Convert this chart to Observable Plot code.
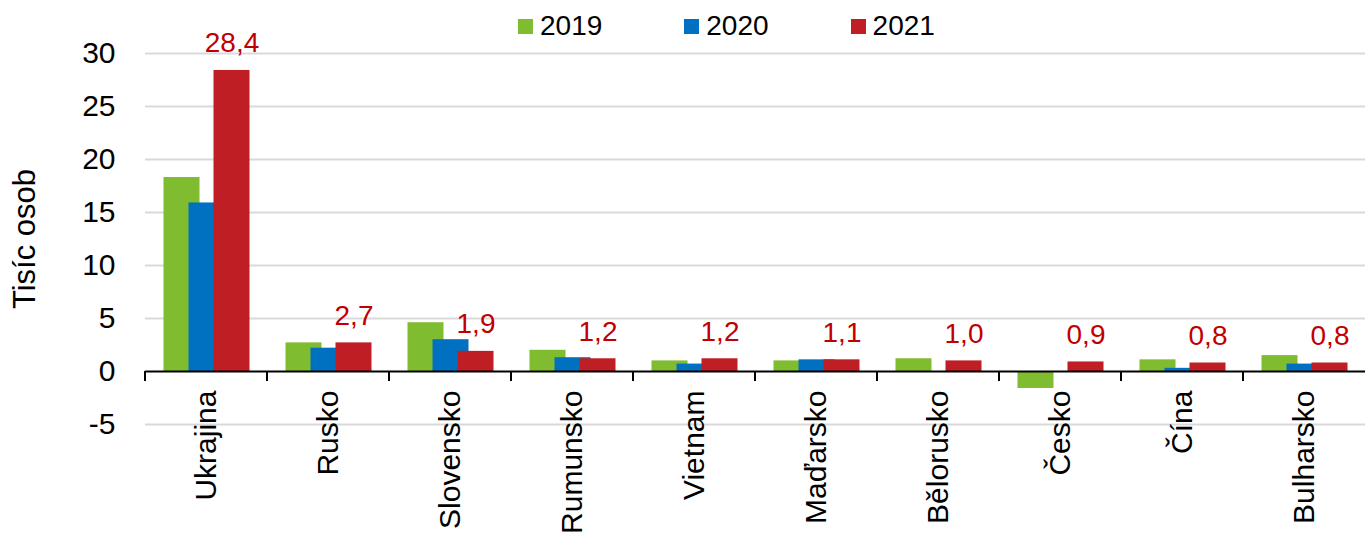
<!DOCTYPE html>
<html>
<head>
<meta charset="utf-8">
<script src="https://cdn.jsdelivr.net/npm/d3@7"></script>
<script src="https://cdn.jsdelivr.net/npm/@observablehq/plot@0.6"></script>
<style>
  body { margin: 0; background: white; }
  #chart { position: relative; width: 1366px; height: 539px; font-family: "Liberation Sans", Arial, sans-serif; }
  #legend { position: absolute; left: 518px; top: 10px; display: flex; align-items: center; gap: 82px; font-size: 28px; line-height: 32px; color: #000; }
  #legend .item { display: flex; align-items: center; gap: 7px; }
  #legend .sw { width: 15px; height: 15px; display: inline-block; }
</style>
</head>
<body>
<div id="chart"></div>
<script>
const countries = ["Ukrajina", "Rusko", "Slovensko", "Rumunsko", "Vietnam", "Maďarsko", "Bělorusko", "Česko", "Čína", "Bulharsko"];
const years = ["2019", "2020", "2021"];
const v2019 = [18.3, 2.7, 4.6, 2.0, 1.0, 1.0, 1.2, -1.6, 1.1, 1.5];
const v2020 = [15.9, 2.2, 3.0, 1.3, 0.7, 1.1, null, null, 0.3, 0.7];
const v2021 = [28.4, 2.7, 1.9, 1.2, 1.2, 1.1, 1.0, 0.9, 0.8, 0.8];
const colors = ["#80bc2f", "#0070c0", "#be1e24"];
const yTicks = [-5, 0, 5, 10, 15, 20, 25, 30];
const yLabel = "Tisíc osob";

const series = [v2019, v2020, v2021];
const table = [];
countries.forEach((c, i) => {
  years.forEach((yr, j) => {
    const v = series[j][i];
    if (v != null) table.push({country: c, year: yr, value: v});
  });
});
const fmt = v => d3.format(".1f")(v).replace(".", ",");

const plot = Plot.plot({
  width: 1366,
  height: 539,
  marginLeft: 143,
  marginRight: 0,
  marginTop: 53,
  marginBottom: 115,
  style: {fontFamily: "'Liberation Sans', Arial, sans-serif", fontSize: "28px", color: "#000", background: "white"},
  fx: {domain: countries, paddingInner: 0, paddingOuter: 0},
  x: {domain: years, paddingInner: 0, paddingOuter: 0.9, axis: null},
  y: {domain: [-5, 30]},
  color: {domain: years, range: colors},
  marks: [
    Plot.ruleY(yTicks.filter(d => d !== 0), {stroke: "#d9d9d9", strokeWidth: 2}),
    Plot.barY(table, {fx: "country", x: "year", y: "value", fill: "year", insetLeft: -5.5, insetRight: -5.5}),
    Plot.ruleY([0], {stroke: "#000", strokeWidth: 2}),
    Plot.text(table.filter(d => d.year === "2021"), {
      fx: "country", x: "year", y: "value", text: d => fmt(d.value),
      lineAnchor: "bottom", dy: -18, fill: "#c00000", fontSize: 28
    }),
    Plot.axisY({ticks: yTicks, tickSize: 0, tickPadding: 30, tickFormat: d => String(d),
      label: null, fill: "#000", fontSize: 30}),
    Plot.axisY({ticks: [], tickSize: 0, label: yLabel, labelArrow: "none", labelAnchor: "center",
      labelOffset: 133, fill: "#000", fontSize: 31, dy: -12}),
    Plot.axisFx({anchor: "bottom", tickSize: 0, tickRotate: -90, tickPadding: -34, label: null, fill: "#000", fontSize: 30})
  ]
});

document.getElementById("chart").appendChild(plot);

// category boundary ticks on the zero line, placed via the plot's scales
const fx = plot.scale("fx");
const ys = plot.scale("y");
const y0 = ys.apply(0);
const gap = (fx.step - fx.bandwidth) / 2;
d3.select(plot).append("g")
  .selectAll("line")
  .data(countries)
  .join("line")
  .attr("x1", c => fx.apply(c) - gap)
  .attr("x2", c => fx.apply(c) - gap)
  .attr("y1", y0)
  .attr("y2", y0 + 10)
  .attr("stroke", "#000")
  .attr("stroke-width", 2);

// legend
const legend = d3.select("#chart").append("div").attr("id", "legend");
years.forEach((yr, i) => {
  const it = legend.append("div").attr("class", "item");
  it.append("span").attr("class", "sw").style("background", colors[i]);
  it.append("span").text(yr);
});
</script>
</body>
</html>
